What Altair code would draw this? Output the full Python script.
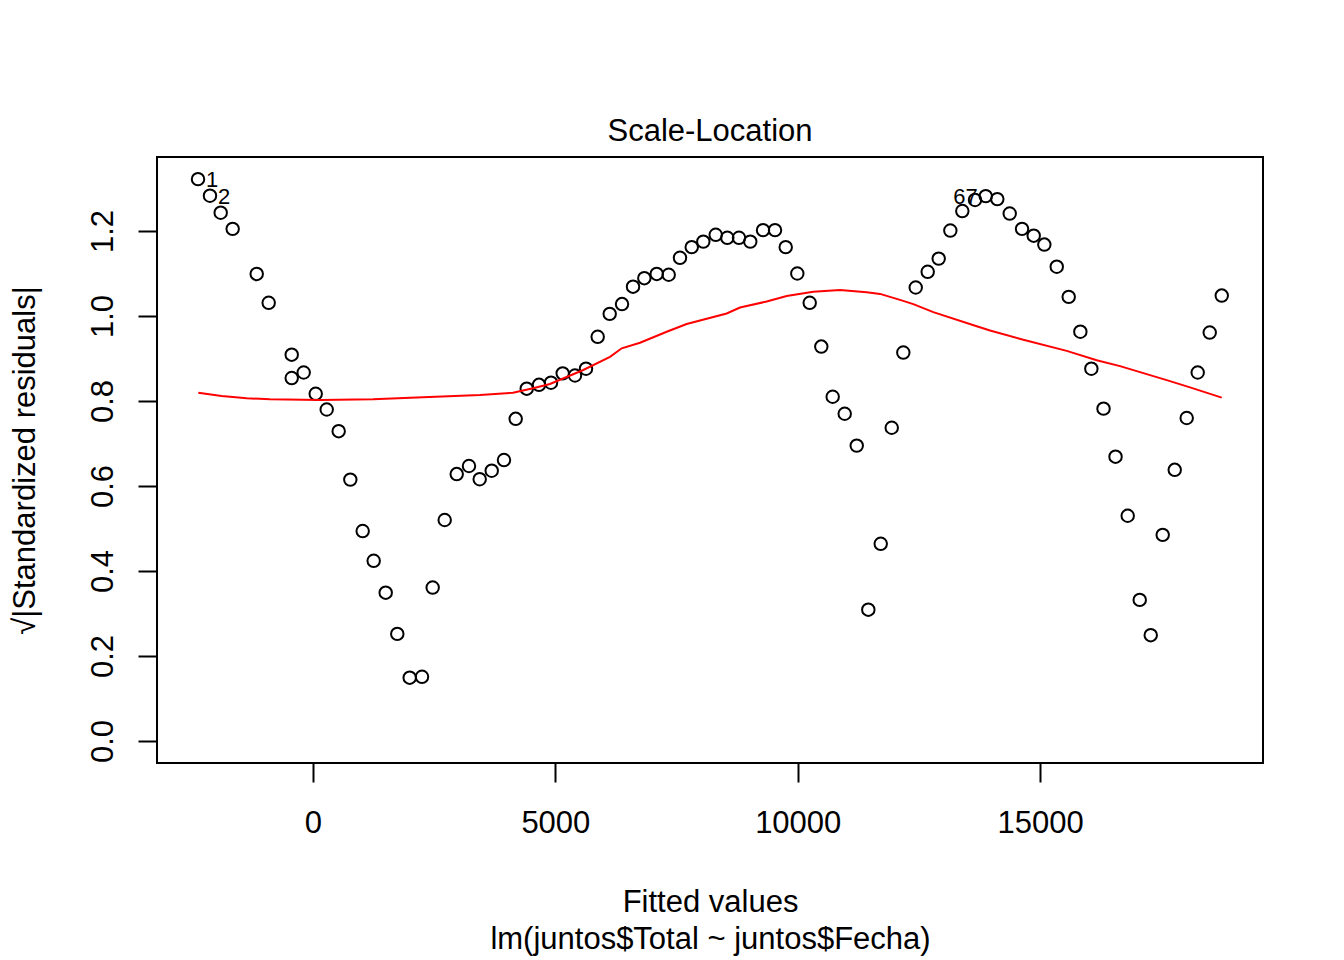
import altair as alt
import pandas as pd

# Fitted values (x) and sqrt(|standardized residuals|) (y)
fitted = [
    -2372, -2125, -1904, -1657, -1161, -914, -439, -439, -192, 56,
    283, 530, 770, 1025, 1252, 1500, 1739, 1995, 2249, 2469,
    2717, 2965, 3218, 3439, 3687, 3940, 4182, 4409, 4662, 4910,
    5151, 5405, 5632, 5873, 6121, 6375, 6602, 6835, 7091, 7338,
    7571, 7813, 8052, 8308, 8547, 8788, 9021, 9284, 9531, 9752,
    9991, 10247, 10486, 10721, 10969, 11217, 11456, 11712, 11939, 12178,
    12434, 12681, 12908, 13148, 13395, 13657, 13878, 14117, 14373, 14627,
    14868, 15087, 15343, 15590, 15830, 16057, 16308, 16556, 16807, 17055,
    17282, 17529, 17777, 18024, 18251, 18499, 18747,
]
sqrt_std_resid = [
    1.322, 1.283, 1.243, 1.205, 1.099, 1.031, 0.909, 0.854, 0.867, 0.817,
    0.780, 0.729, 0.615, 0.494, 0.424, 0.349, 0.252, 0.149, 0.151, 0.361,
    0.520, 0.628, 0.647, 0.616, 0.636, 0.661, 0.758, 0.829, 0.838, 0.843,
    0.865, 0.860, 0.876, 0.951, 1.005, 1.028, 1.069, 1.089, 1.099, 1.097,
    1.137, 1.162, 1.175, 1.191, 1.184, 1.184, 1.175, 1.202, 1.202, 1.162,
    1.100, 1.031, 0.928, 0.810, 0.770, 0.695, 0.309, 0.464, 0.737, 0.914,
    1.067, 1.104, 1.135, 1.201, 1.247, 1.273, 1.282, 1.275, 1.241, 1.205,
    1.189, 1.168, 1.116, 1.045, 0.963, 0.876, 0.782, 0.669, 0.530, 0.332,
    0.249, 0.485, 0.638, 0.760, 0.867, 0.961, 1.048,
]

# Smoother (red line)
smooth_x = [
    -2366, -1884, -1368, -887, 144, 1238, 2269, 3445, 4126, 4539,
    4889, 5576, 6127, 6369, 6746, 7297, 7709, 8534, 8809, 9360,
    9772, 10321, 10872, 11423, 11697, 12110, 12384, 12797, 13692, 13967,
    14654, 15549, 16168, 16649, 17612, 18093, 18747,
]
smooth_y = [
    0.8195, 0.8118, 0.8064, 0.804, 0.8024, 0.804, 0.8087, 0.8141, 0.8195, 0.830,
    0.840, 0.873, 0.904, 0.924, 0.937, 0.963, 0.981, 1.006, 1.020, 1.034,
    1.047, 1.057, 1.061, 1.056, 1.052, 1.038, 1.028, 1.009, 0.976, 0.966,
    0.944, 0.918, 0.896, 0.882, 0.849, 0.832, 0.808,
]

# Labelled observations (1-based ids) and on which side the label sits
label_ids = [1, 2, 67]
label_side = ["right", "right", "left"]

x_ticks = [0, 5000, 10000, 15000]
y_ticks = [0.0, 0.2, 0.4, 0.6, 0.8, 1.0, 1.2]

FONT = "Liberation Sans"
FS = 31

pts = pd.DataFrame({"fitted": fitted, "resid": sqrt_std_resid})
smooth = pd.DataFrame({"fitted": smooth_x, "resid": smooth_y})
lab = pd.DataFrame({
    "fitted": [fitted[i - 1] for i in label_ids],
    "resid": [sqrt_std_resid[i - 1] for i in label_ids],
    "label": [str(i) for i in label_ids],
    "side": label_side,
})

xscale = alt.Scale(domain=[-3218, 19598], nice=False, zero=False)
yscale = alt.Scale(domain=[-0.0518, 1.3741], nice=False, zero=False)

xaxis = alt.Axis(
    values=x_ticks, format="d", grid=False, domain=False,
    tickSize=19, tickWidth=2, tickColor="black",
    labelFont=FONT, labelFontSize=FS, labelColor="black",
    labelPadding=50, labelBaseline="alphabetic", labelFlush=False, labelOverlap=False,
    title=["Fitted values", "lm(juntos$Total ~ juntos$Fecha)"],
    titleFont=FONT, titleFontSize=FS, titleFontWeight="normal", titleColor="black",
    titleBaseline="alphabetic", titleLineHeight=37, titleY=148,
)
yaxis = alt.Axis(
    values=y_ticks, format=".1f", grid=False, domain=False,
    tickSize=19, tickWidth=2, tickColor="black",
    labelFont=FONT, labelFontSize=FS, labelColor="black",
    labelAngle=270, labelAlign="center", labelBaseline="alphabetic",
    labelPadding=26, labelFlush=False, labelOverlap=False,
    title="√|Standardized residuals|",
    titleFont=FONT, titleFontSize=FS, titleFontWeight="normal", titleColor="black",
    titleAngle=270, titleAlign="center", titleBaseline="alphabetic",
    titleX=-123, titleY=303,
)

base_x = alt.X("fitted:Q", scale=xscale, axis=xaxis)
base_y = alt.Y("resid:Q", scale=yscale, axis=yaxis)

points = alt.Chart(pts).mark_point(
    shape="circle", filled=False, color="black", strokeWidth=2, size=155, opacity=1
).encode(x=base_x, y=base_y)

line = alt.Chart(smooth).mark_line(color="#FF0000", strokeWidth=2).encode(
    x=alt.X("fitted:Q", scale=xscale), y=alt.Y("resid:Q", scale=yscale)
)

lab_right = alt.Chart(lab).transform_filter(alt.datum.side == "right").mark_text(
    align="left", baseline="middle", dx=8, dy=1, font=FONT, fontSize=22, color="black"
).encode(x=alt.X("fitted:Q", scale=xscale), y=alt.Y("resid:Q", scale=yscale), text="label:N")

lab_left = alt.Chart(lab).transform_filter(alt.datum.side == "left").mark_text(
    align="right", baseline="middle", dx=-8, dy=1, font=FONT, fontSize=22, color="black"
).encode(x=alt.X("fitted:Q", scale=xscale), y=alt.Y("resid:Q", scale=yscale), text="label:N")

chart = alt.layer(points, line, lab_right, lab_left).properties(
    width=1106,
    height=606,
    background="white",
    autosize=alt.AutoSizeParams(type="none"),
    padding={"left": 149, "top": 149, "right": 50, "bottom": 196},
    title=alt.TitleParams(
        "Scale-Location", font=FONT, fontSize=FS, fontWeight="normal", color="black",
        anchor="middle", frame="group", baseline="alphabetic", offset=17, dy=32,
    ),
).configure_view(stroke="black", strokeWidth=2)

chart.save("out.html", embed_options={"renderer": "svg", "actions": False})
